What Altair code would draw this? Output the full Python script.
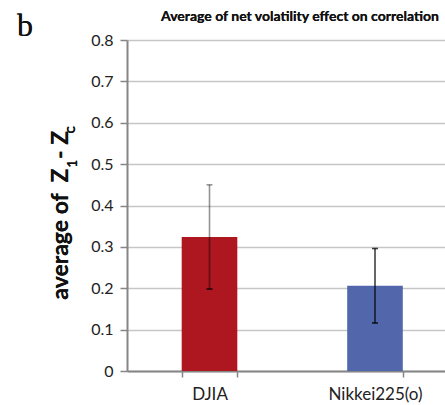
import altair as alt
import pandas as pd

categories = ["DJIA", "Nikkei225(o)"]
means = [0.324, 0.206]
errors = [0.126, 0.090]
bar_colors = ["#AE1620", "#5166AB"]

df = pd.DataFrame({"cat": categories, "mean": means, "err": errors})

FONT = "Lato"

x_enc = alt.X(
    "cat:N",
    sort=categories,
    title=None,
    scale=alt.Scale(paddingInner=0.664, paddingOuter=0.2928, align=0.5645),
    axis=alt.Axis(
        labelAngle=0,
        tickBand="extent",
        tickSize=6,
        tickColor="#868686",
        tickWidth=1.5,
        domainColor="#868686",
        domainWidth=2,
        labelFont=FONT,
        labelFontSize=17,
        labelColor="#222222",
        labelPadding=9,
        grid=False,
    ),
)

base = alt.Chart(df)

bars = base.mark_bar().encode(
    x=x_enc,
    y=alt.Y(
        "mean:Q",
        title=None,
        scale=alt.Scale(domain=[0, 0.8], nice=False),
        axis=alt.Axis(
            values=[0, 0.1, 0.2, 0.3, 0.4, 0.5, 0.6, 0.7, 0.8],
            format=".1~f",
            tickSize=7,
            tickColor="#868686",
            tickWidth=1.5,
            domainColor="#868686",
            domainWidth=2,
            gridColor="#c6c6c6",
            gridWidth=1.5,
            labelFont=FONT,
            labelFontSize=16,
            labelColor="#222222",
            labelPadding=7,
        ),
    ),
    color=alt.Color("cat:N", scale=alt.Scale(domain=categories, range=bar_colors), legend=None),
)

err_base = base.transform_calculate(
    lo="datum.mean - datum.err", hi="datum.mean + datum.err"
)

err_rule = err_base.mark_rule(strokeWidth=1.6, color="black").encode(
    x=alt.X("cat:N", sort=categories),
    y="lo:Q",
    y2="hi:Q",
    opacity=alt.condition(alt.datum.cat == "DJIA", alt.value(0.42), alt.value(0.75)),
)
cap_lo = err_base.mark_tick(size=6, thickness=1.6, color="black").encode(
    x=alt.X("cat:N", sort=categories),
    y="lo:Q",
    opacity=alt.value(0.8),
)
cap_hi = err_base.mark_tick(size=6, thickness=1.6, color="black").encode(
    x=alt.X("cat:N", sort=categories),
    y="hi:Q",
    opacity=alt.condition(alt.datum.cat == "DJIA", alt.value(0.4), alt.value(0.75)),
)

title_txt = base.mark_text(
    text="Average of net volatility effect on correlation",
    font=FONT, fontSize=14, fontWeight="bold", align="center", baseline="alphabetic", color="#111111",
).encode(x=alt.value(173), y=alt.value(-19))

panel_txt = base.mark_text(
    text="b", font="Liberation Serif", fontSize=32, align="left", baseline="alphabetic", color="#111111",
).encode(x=alt.value(-110), y=alt.value(-4))

yt1 = base.mark_text(
    text="average of\u00a0\u00a0Z", font=FONT, fontSize=23, fontWeight="bold", angle=270,
    align="right", baseline="alphabetic", color="#111111",
).encode(x=alt.value(-59), y=alt.value(128.5))
yt2 = base.mark_text(
    text="1", font=FONT, fontSize=13, fontWeight="bold", angle=270,
    align="left", baseline="alphabetic", color="#111111",
).encode(x=alt.value(-50), y=alt.value(127.5))
yt3 = base.mark_text(
    text="-\u00a0Z", font=FONT, fontSize=23, fontWeight="bold", angle=270,
    align="left", baseline="alphabetic", color="#111111",
).encode(x=alt.value(-59), y=alt.value(119))
yt4 = base.mark_text(
    text="C", font=FONT, fontSize=11, fontWeight="bold", angle=270,
    align="left", baseline="alphabetic", color="#111111",
).encode(x=alt.value(-52), y=alt.value(93.5))

chart = alt.layer(
    bars, err_rule, cap_lo, cap_hi, title_txt, panel_txt, yt1, yt2, yt3, yt4
).properties(
    width=318,
    height=331,
    autosize=alt.AutoSizeParams(type="none"),
    padding={"left": 127, "top": 40, "right": 0, "bottom": 34},
    background="white",
).configure_view(stroke=None)

chart.save("out.html", embed_options={"renderer": "svg", "actions": False})
